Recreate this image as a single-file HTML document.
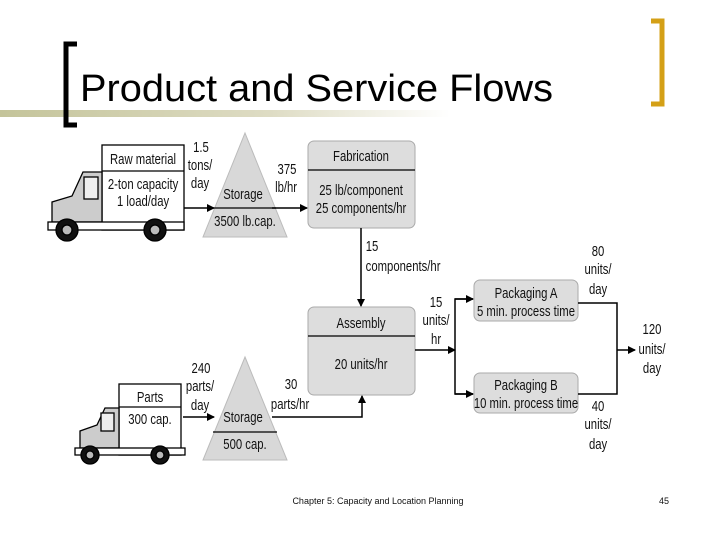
<!DOCTYPE html>
<html><head><meta charset="utf-8"><style>
html,body{margin:0;padding:0;background:#fff;}
svg{display:block;}
text{font-family:"Liberation Sans",sans-serif;}
.d{font-size:14.5px;fill:#111;transform-box:fill-box;transform-origin:center;transform:scaleX(0.78);}
</style></head><body>
<svg width="720" height="540" viewBox="0 0 720 540" xmlns="http://www.w3.org/2000/svg">
<defs>
<linearGradient id="g" x1="0" x2="1" y1="0" y2="0">
<stop offset="0" stop-color="#c4c49a"/><stop offset="0.6" stop-color="#dedcc4"/><stop offset="1" stop-color="#fff"/>
</linearGradient>
<marker id="a" markerWidth="8" markerHeight="8" refX="7" refY="4" orient="auto" markerUnits="userSpaceOnUse">
<path d="M0,0 L8,4 L0,8 z" fill="#000"/></marker>
</defs>
<rect x="0" y="110" width="450" height="7" fill="url(#g)"/>
<path d="M77,44 H66 V125 H77" fill="none" stroke="#000" stroke-width="5"/>
<path d="M651,21 H662 V104 H651" fill="none" stroke="#d4a017" stroke-width="5"/>
<text x="80" y="101" font-size="38" textLength="473" lengthAdjust="spacingAndGlyphs">Product and Service Flows</text>

<!-- Truck 1 -->
<g stroke="#000" stroke-width="1.3">
<rect x="102" y="145" width="82" height="85" fill="#fff"/>
<line x1="102" y1="171" x2="184" y2="171"/>
<path d="M102,172 H83 L72,196 L52,202 V222 H102 Z" fill="#ccc"/>
<rect x="84" y="177" width="14" height="22" fill="#eee"/>
<rect x="48" y="222" width="136" height="8" fill="#fff"/>
<circle cx="67" cy="230" r="11" fill="#111"/><circle cx="67" cy="230" r="5" fill="#bbb"/>
<circle cx="155" cy="230" r="11" fill="#111"/><circle cx="155" cy="230" r="5" fill="#bbb"/>
</g>
<text class="d" x="143" y="164" text-anchor="middle">Raw material</text>
<text class="d" x="143" y="189" text-anchor="middle">2-ton capacity</text>
<text class="d" x="143" y="206" text-anchor="middle">1 load/day</text>

<!-- Truck 2 -->
<g stroke="#000" stroke-width="1.3">
<rect x="119" y="384" width="62" height="71" fill="#fff"/>
<line x1="119" y1="407" x2="181" y2="407"/>
<path d="M119,408 H105 L97,425 L80,431 V448 H119 Z" fill="#ccc"/>
<rect x="101" y="413" width="13" height="18" fill="#eee"/>
<rect x="75" y="448" width="110" height="7" fill="#fff"/>
<circle cx="90" cy="455" r="9" fill="#111"/><circle cx="90" cy="455" r="4" fill="#bbb"/>
<circle cx="160" cy="455" r="9" fill="#111"/><circle cx="160" cy="455" r="4" fill="#bbb"/>
</g>
<text class="d" x="150" y="402" text-anchor="middle">Parts</text>
<text class="d" x="150" y="424" text-anchor="middle">300 cap.</text>

<!-- Triangles -->
<path d="M245,133 L287,237 H203 Z" fill="#d8d8d8" stroke="#bbb"/>
<line x1="214" y1="208" x2="276" y2="208" stroke="#000" stroke-width="1.3"/>
<text class="d" x="243" y="199" text-anchor="middle">Storage</text>
<text class="d" x="245" y="226" text-anchor="middle">3500 lb.cap.</text>
<path d="M245,357 L287,460 H203 Z" fill="#d8d8d8" stroke="#bbb"/>
<line x1="213" y1="432" x2="277" y2="432" stroke="#000" stroke-width="1.3"/>
<text class="d" x="243" y="422" text-anchor="middle">Storage</text>
<text class="d" x="245" y="449" text-anchor="middle">500 cap.</text>

<!-- Boxes -->
<rect x="308" y="141" width="107" height="87" rx="6" fill="#ddd" stroke="#aaa"/>
<line x1="308" y1="170" x2="415" y2="170" stroke="#000" stroke-width="1.3"/>
<text class="d" x="361" y="161" text-anchor="middle">Fabrication</text>
<text class="d" x="361" y="195" text-anchor="middle">25 lb/component</text>
<text class="d" x="361" y="213" text-anchor="middle">25 components/hr</text>

<rect x="308" y="307" width="107" height="88" rx="6" fill="#ddd" stroke="#aaa"/>
<line x1="308" y1="336" x2="415" y2="336" stroke="#000" stroke-width="1.3"/>
<text class="d" x="361" y="328" text-anchor="middle">Assembly</text>
<text class="d" x="361" y="369" text-anchor="middle">20 units/hr</text>

<rect x="474" y="280" width="104" height="41" rx="6" fill="#ddd" stroke="#aaa"/>
<text class="d" x="526" y="298" text-anchor="middle">Packaging A</text>
<text class="d" x="526" y="316" text-anchor="middle">5 min. process time</text>
<rect x="474" y="373" width="104" height="40" rx="6" fill="#ddd" stroke="#aaa"/>
<text class="d" x="526" y="390" text-anchor="middle">Packaging B</text>
<text class="d" x="526" y="408" text-anchor="middle">10 min. process time</text>

<!-- Connectors -->
<g stroke="#000" stroke-width="1.5" fill="none">
<line x1="184" y1="208" x2="214" y2="208" marker-end="url(#a)"/>
<line x1="272" y1="208" x2="307" y2="208" marker-end="url(#a)"/>
<line x1="361" y1="228" x2="361" y2="306" marker-end="url(#a)"/>
<line x1="415" y1="350" x2="455" y2="350" marker-end="url(#a)"/>
<path d="M473,299 H455 V394 H473"/>
<line x1="455" y1="299" x2="473" y2="299" marker-end="url(#a)"/>
<line x1="455" y1="394" x2="473" y2="394" marker-end="url(#a)"/>
<path d="M578,303 H617 V394 H578"/>
<line x1="617" y1="350" x2="635" y2="350" marker-end="url(#a)"/>
<line x1="183" y1="417" x2="214" y2="417" marker-end="url(#a)"/>
<path d="M272,417 H362 V396" marker-end="url(#a)"/>
</g>

<!-- Flow labels -->
<g text-anchor="middle">
<text class="d" x="201" y="152">1.5</text><text class="d" x="200" y="170">tons/</text><text class="d" x="200" y="188">day</text>
<text class="d" x="287" y="174">375</text><text class="d" x="286" y="192">lb/hr</text>
<text class="d" x="372" y="251">15</text><text class="d" x="403" y="271">components/hr</text>
<text class="d" x="436" y="307">15</text><text class="d" x="436" y="325">units/</text><text class="d" x="436" y="344">hr</text>
<text class="d" x="598" y="256">80</text><text class="d" x="598" y="274">units/</text><text class="d" x="598" y="294">day</text>
<text class="d" x="652" y="334">120</text><text class="d" x="652" y="354">units/</text><text class="d" x="652" y="373">day</text>
<text class="d" x="598" y="411">40</text><text class="d" x="598" y="429">units/</text><text class="d" x="598" y="449">day</text>
<text class="d" x="201" y="373">240</text><text class="d" x="200" y="391">parts/</text><text class="d" x="200" y="410">day</text>
<text class="d" x="291" y="389">30</text><text class="d" x="290" y="409">parts/hr</text>
</g>
<g font-size="9" fill="#111">
<text x="378" y="504" text-anchor="middle">Chapter 5: Capacity and Location Planning</text>
<text x="664" y="504" text-anchor="middle">45</text>
</g>
</svg>
</body></html>
